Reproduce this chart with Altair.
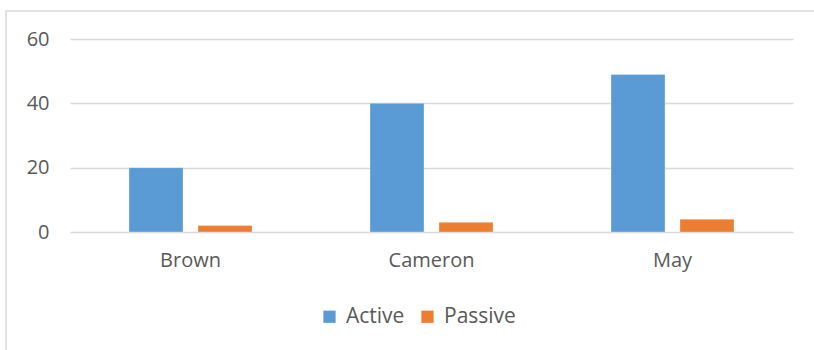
import altair as alt
import pandas as pd

# Chart data
leaders = ["Brown", "Cameron", "May"]
active = [20, 40, 49]
passive = [2, 3, 4]
series = ["Active", "Passive"]
colors = ["#5B9BD5", "#ED7D31"]
y_ticks = [0, 20, 40, 60]

rows = []
for name, a, p in zip(leaders, active, passive):
    rows.append({"leader": name, "type": "Active", "value": a})
    rows.append({"leader": name, "type": "Passive", "value": p})
df = pd.DataFrame(rows)

FONT = "Open Sans"
TEXT = "#595959"
GRID = "#D9D9D9"

bars = alt.Chart(df).mark_bar(stroke="white", strokeWidth=0.6, strokeOpacity=0.5).encode(
    x=alt.X(
        "leader:N",
        sort=leaders,
        title=None,
        scale=alt.Scale(paddingInner=0, paddingOuter=0),
        axis=alt.Axis(
            labelAngle=0, labelFont=FONT, labelFontSize=20, labelColor=TEXT,
            labelPadding=18, ticks=False, domain=False, grid=False,
        ),
    ),
    xOffset=alt.XOffset(
        "type:N",
        sort=series,
        scale=alt.Scale(paddingInner=0.217, paddingOuter=0.855),
    ),
    y=alt.Y(
        "value:Q",
        title=None,
        scale=alt.Scale(domain=[0, 60], nice=False),
        axis=alt.Axis(
            values=y_ticks, labelFont=FONT, labelFontSize=20, labelColor=TEXT,
            labelPadding=21, ticks=False, domain=False,
            gridColor=GRID, gridWidth=1.3,
        ),
    ),
    color=alt.Color(
        "type:N",
        sort=series,
        scale=alt.Scale(domain=series, range=colors),
        legend=alt.Legend(
            title=None, orient="none", direction="horizontal",
            legendX=249, legendY=267,
            symbolType="square", symbolSize=150, symbolStrokeWidth=0,
            labelFont=FONT, labelFontSize=21, labelColor=TEXT,
            columnPadding=12, labelOffset=6,
        ),
    ),
)

# Thin frame around the whole chart area
frame = alt.Chart(pd.DataFrame({"k": [0]})).mark_rect(
    fill=None, stroke=GRID, strokeWidth=1.5
).encode(
    x=alt.value(-64), x2=alt.value(760), y=alt.value(-28), y2=alt.value(400)
)

chart = alt.layer(frame, bars).properties(
    width=723,
    height=193,
    autosize=alt.AutoSizeParams(type="none"),
    padding={"left": 70, "top": 39, "right": 21, "bottom": 118},
    background="white",
).configure_view(stroke=None)

chart.save("out.html", embed_options={"renderer": "svg", "actions": False})
